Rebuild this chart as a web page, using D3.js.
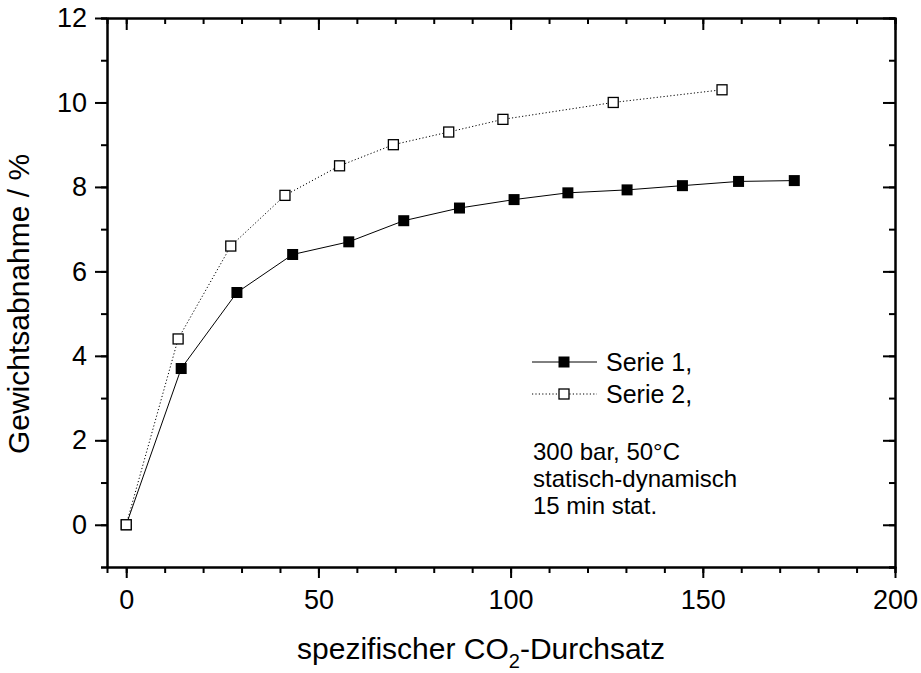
<!DOCTYPE html>
<html>
<head>
<meta charset="utf-8">
<script src="https://cdn.jsdelivr.net/npm/d3@7"></script>
<style>
  body { margin: 0; background: #fff; }
  text { font-family: "Liberation Sans", Arial, sans-serif; fill: #000; }
</style>
</head>
<body>
<svg id="chart" width="921" height="673"></svg>
<script>
// data
const serie1_x = [0, 14.3, 28.8, 43.3, 57.9, 72.2, 86.7, 100.9, 114.9, 130.3, 144.7, 159.3, 173.8];
const serie1_y = [0, 3.7, 5.5, 6.4, 6.7, 7.2, 7.5, 7.7, 7.86, 7.93, 8.03, 8.13, 8.15];
const serie2_x = [0, 13.5, 27.2, 41.3, 55.5, 69.5, 83.9, 98.0, 126.7, 155.0];
const serie2_y = [0, 4.4, 6.6, 7.8, 8.5, 9.0, 9.3, 9.6, 10.0, 10.3];
const x_ticks = [0, 50, 100, 150, 200];
const y_ticks = [0, 2, 4, 6, 8, 10, 12];
const legend_labels = ["Serie 1,", "Serie 2,"];
const note_lines = ["300 bar, 50°C", "statisch-dynamisch", "15 min stat."];

const margin = {top: 18, right: 26, bottom: 106, left: 107},
    width = 921 - margin.left - margin.right,
    height = 673 - margin.top - margin.bottom;

const svg = d3.select("#chart")
    .append("g")
    .attr("transform", "translate(" + margin.left + "," + margin.top + ")");

var xScale = d3.scaleLinear().domain([-5, 200]).range([0, width]);
var yScale = d3.scaleLinear().domain([-1, 12]).range([height, 0]);

var s1 = serie1_x.map(function (d, i) { return {x: d, y: serie1_y[i]}; });
var s2 = serie2_x.map(function (d, i) { return {x: d, y: serie2_y[i]}; });

const minorX = d3.range(0, 201, 10);
const minorY = d3.range(-1, 12.1, 1);

function styleAxis(g) {
    g.select(".domain").attr("stroke-width", 2);
    g.selectAll(".tick line").attr("stroke-width", 2);
    g.selectAll(".tick text").style("font-size", "27px");
}

// minor ticks first
svg.append("g")
    .attr("transform", "translate(0," + height + ")")
    .call(d3.axisBottom(xScale).tickValues(minorX).tickSize(6).tickFormat(""))
    .call(styleAxis);
svg.append("g")
    .call(d3.axisTop(xScale).tickValues(minorX).tickSize(-6).tickFormat(""))
    .call(styleAxis);
svg.append("g")
    .call(d3.axisLeft(yScale).tickValues(minorY).tickSize(6).tickFormat(""))
    .call(styleAxis);
svg.append("g")
    .attr("transform", "translate(" + width + ",0)")
    .call(d3.axisRight(yScale).tickValues(minorY).tickSize(-6).tickFormat(""))
    .call(styleAxis);

// major ticks
svg.append("g")
    .attr("class", "x-axis")
    .attr("transform", "translate(0," + height + ")")
    .call(d3.axisBottom(xScale).tickValues(x_ticks).tickSize(11).tickPadding(12).tickSizeOuter(0))
    .call(styleAxis);
svg.append("g")
    .call(d3.axisTop(xScale).tickValues(x_ticks).tickSize(-12).tickFormat("").tickSizeOuter(0))
    .call(styleAxis);
svg.append("g")
    .attr("class", "y-axis")
    .call(d3.axisLeft(yScale).tickValues(y_ticks).tickSize(12).tickPadding(8).tickSizeOuter(0))
    .call(styleAxis);
svg.append("g")
    .attr("transform", "translate(" + width + ",0)")
    .call(d3.axisRight(yScale).tickValues(y_ticks).tickSize(-12).tickFormat("").tickSizeOuter(0))
    .call(styleAxis);

var line = d3.line()
    .x(function (d) { return xScale(d.x); })
    .y(function (d) { return yScale(d.y); });

svg.append("path")
    .datum(s1)
    .attr("fill", "none")
    .attr("stroke", "#000")
    .attr("stroke-width", 1)
    .attr("d", line);

svg.append("path")
    .datum(s2)
    .attr("fill", "none")
    .attr("stroke", "#000")
    .attr("stroke-width", 1)
    .attr("stroke-dasharray", "1.2,2.2")
    .attr("d", line);

const sz1 = 11, sz2 = 10;

svg.selectAll(".m1")
    .data(s1)
    .enter().append("rect")
    .attr("class", "m1")
    .attr("x", function (d) { return xScale(d.x) - sz1 / 2; })
    .attr("y", function (d) { return yScale(d.y) - sz1 / 2; })
    .attr("width", sz1)
    .attr("height", sz1)
    .attr("fill", "#000");

svg.selectAll(".m2")
    .data(s2)
    .enter().append("rect")
    .attr("class", "m2")
    .attr("x", function (d) { return xScale(d.x) - sz2 / 2; })
    .attr("y", function (d) { return yScale(d.y) - sz2 / 2; })
    .attr("width", sz2)
    .attr("height", sz2)
    .attr("fill", "#fff")
    .attr("stroke", "#000")
    .attr("stroke-width", 1.3);

// legend
const legend = svg.append("g").attr("transform", "translate(" + (532 - margin.left) + "," + (362 - margin.top) + ")");
legend_labels.forEach(function (lab, i) {
    var g = legend.append("g").attr("transform", "translate(0," + (i * 32) + ")");
    g.append("line")
        .attr("x1", 0).attr("x2", 65).attr("y1", 0).attr("y2", 0)
        .attr("stroke", "#000").attr("stroke-width", 1)
        .attr("stroke-dasharray", i === 0 ? null : "1.2,2.2");
    if (i === 0) {
        g.append("rect").attr("x", 32 - sz1 / 2).attr("y", -sz1 / 2)
            .attr("width", sz1).attr("height", sz1).attr("fill", "#000");
    } else {
        g.append("rect").attr("x", 32 - sz2 / 2).attr("y", -sz2 / 2)
            .attr("width", sz2).attr("height", sz2)
            .attr("fill", "#fff").attr("stroke", "#000").attr("stroke-width", 1.3);
    }
    g.append("text")
        .attr("x", 74).attr("y", 9)
        .style("font-size", "25px")
        .text(lab);
});

// note block, line spacing kept a bit above the font's box height
note_lines.forEach(function (t, i) {
    svg.append("text")
        .attr("x", 533 - margin.left)
        .attr("y", 460 - margin.top + i * 27)
        .style("font-size", "24px")
        .text(t);
});

// axis titles
var xt = svg.append("text")
    .attr("x", 481 - margin.left)
    .attr("y", 659 - margin.top)
    .attr("text-anchor", "middle")
    .style("font-size", "30px");
xt.append("tspan").text("spezifischer CO");
xt.append("tspan").attr("dy", 9).style("font-size", "20px").text("2");
xt.append("tspan").attr("dy", -9).text("-Durchsatz");

svg.append("text")
    .attr("transform", "translate(" + (29 - margin.left) + "," + (304 - margin.top) + ") rotate(-90)")
    .attr("text-anchor", "middle")
    .style("font-size", "30px")
    .text("Gewichtsabnahme / %");
</script>
</body>
</html>
